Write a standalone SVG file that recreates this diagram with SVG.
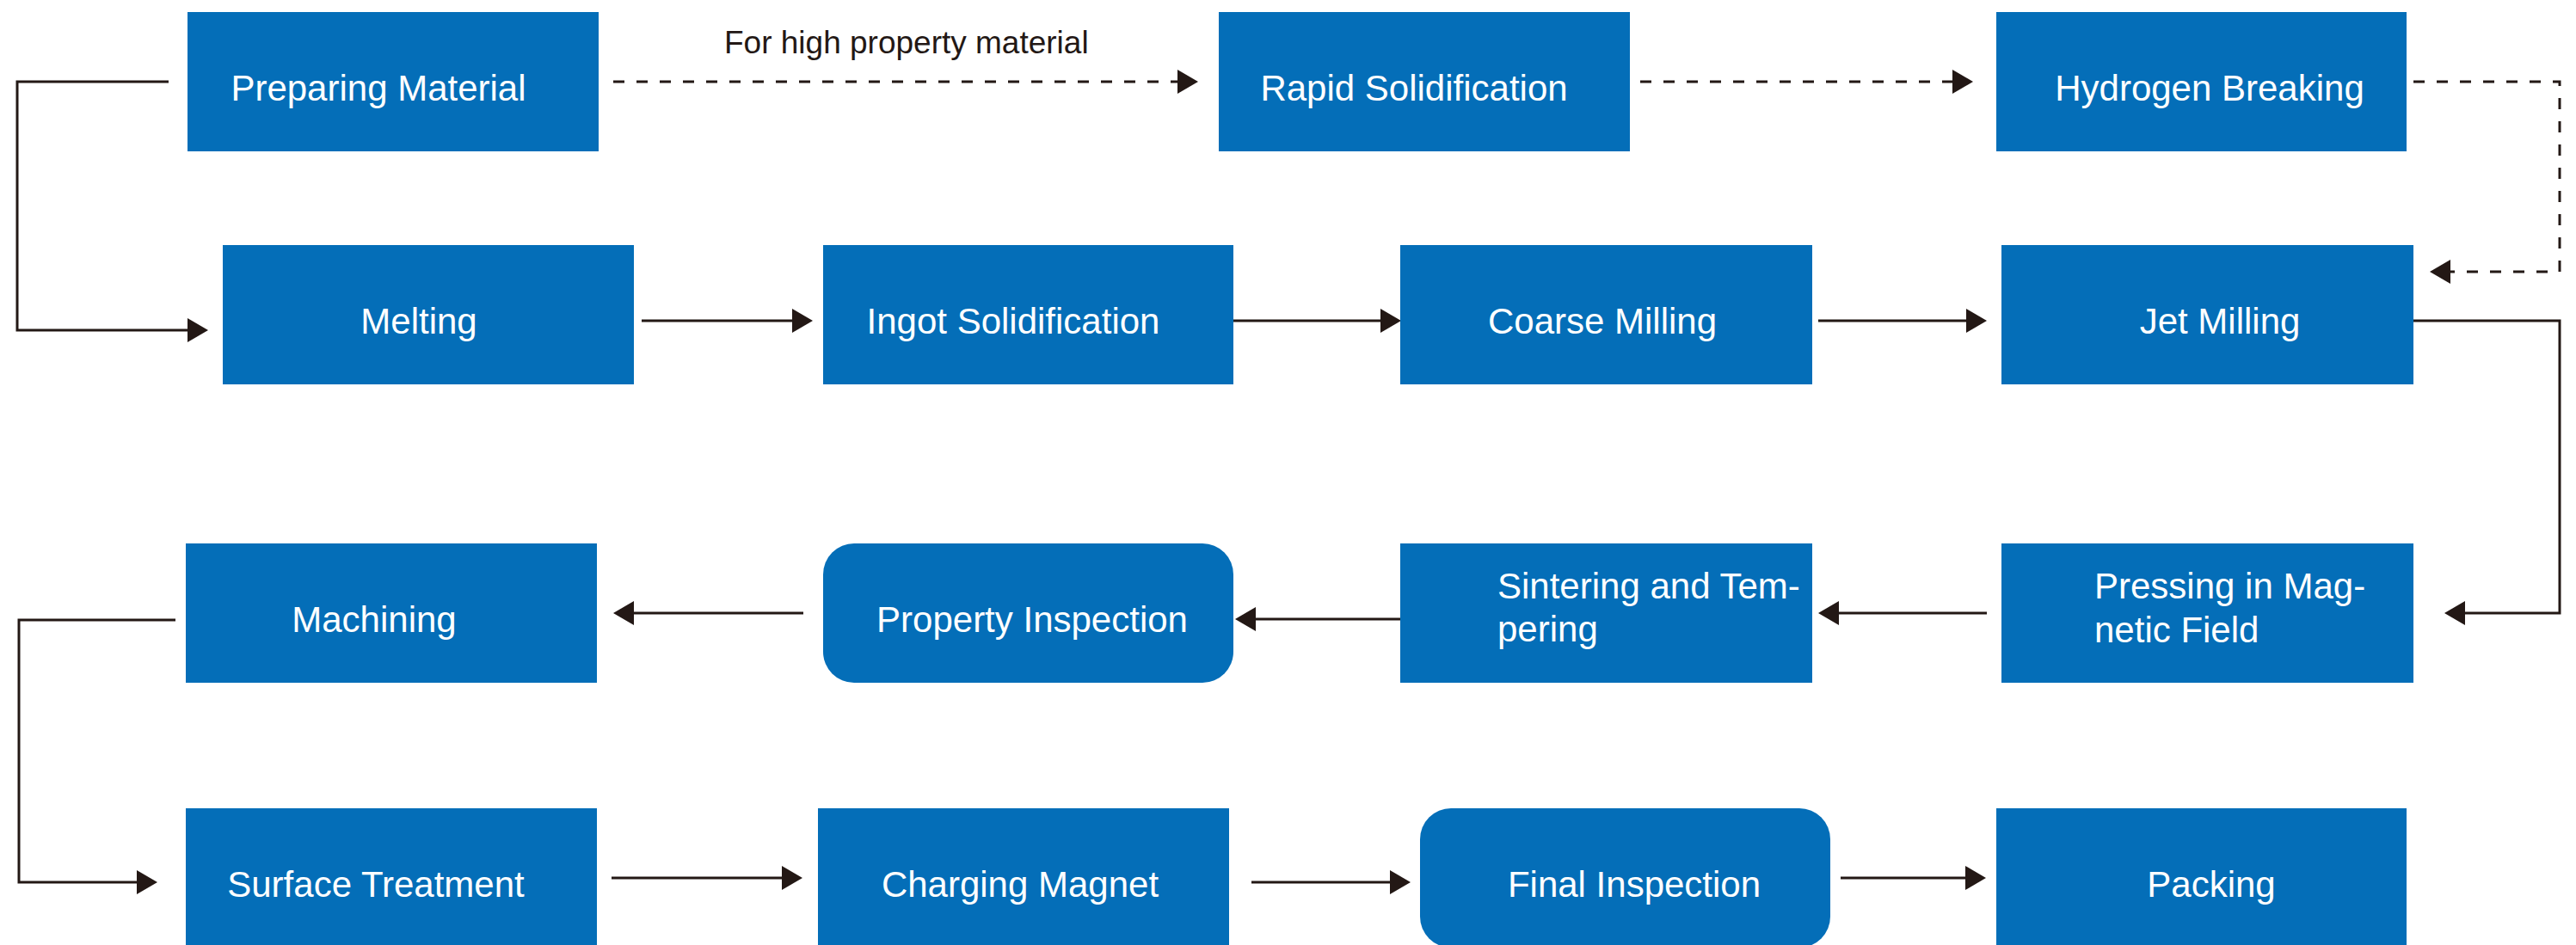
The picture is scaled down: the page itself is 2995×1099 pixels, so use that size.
<svg xmlns="http://www.w3.org/2000/svg" width="2995" height="1099" viewBox="0 0 2995 1099">
<style>
.box{fill:#046EB8}
.t{font-family:"Liberation Sans",Arial,sans-serif;font-size:42px;fill:#ffffff}
.c{text-anchor:middle}
.lbl{font-family:"Liberation Sans",Arial,sans-serif;font-size:37px;fill:#231815}
.ln{fill:none;stroke:#231815;stroke-width:3}
.dash{stroke-dasharray:13 14}
</style>
<defs>
<marker id="ah" markerUnits="userSpaceOnUse" markerWidth="24" markerHeight="28" refX="0" refY="14" orient="auto" viewBox="0 0 24 28">
<path d="M0,0 L24,14 L0,28 z" fill="#231815"/>
</marker>
</defs>
<rect width="2995" height="1099" fill="#ffffff"/>
<g id="connectors">
<path class="ln" d="M196,95 H20 V384 H218" marker-end="url(#ah)"/>
<path class="ln" d="M746,373 H921" marker-end="url(#ah)"/>
<path class="ln" d="M1434,373 H1605" marker-end="url(#ah)"/>
<path class="ln" d="M2114,373 H2286" marker-end="url(#ah)"/>
<path class="ln" d="M2805,373 H2976 V713 H2866" marker-end="url(#ah)"/>
<path class="ln" d="M2310,713 H2138" marker-end="url(#ah)"/>
<path class="ln" d="M1628,720 H1460" marker-end="url(#ah)"/>
<path class="ln" d="M934,713 H737" marker-end="url(#ah)"/>
<path class="ln" d="M204,721 H22 V1026 H159" marker-end="url(#ah)"/>
<path class="ln" d="M711,1021 H909" marker-end="url(#ah)"/>
<path class="ln" d="M1455,1026 H1616" marker-end="url(#ah)"/>
<path class="ln" d="M2140,1021 H2285" marker-end="url(#ah)"/>
<path class="ln dash" d="M713,95 H1369" marker-end="url(#ah)"/>
<path class="ln dash" d="M1907,95 H2270" marker-end="url(#ah)"/>
<path class="ln dash" d="M2806,95 H2976 V316 H2849" marker-end="url(#ah)"/>
<text class="lbl" x="842" y="62">For high property material</text>
</g>
<g id="n-preparing"><rect class="box" x="218" y="14" width="478" height="162"/><text class="t c" x="440" y="117">Preparing Material</text></g>
<g id="n-rapid"><rect class="box" x="1417" y="14" width="478" height="162"/><text class="t c" x="1644" y="117">Rapid Solidification</text></g>
<g id="n-hydrogen"><rect class="box" x="2321" y="14" width="477" height="162"/><text class="t c" x="2569" y="117">Hydrogen Breaking</text></g>
<g id="n-melting"><rect class="box" x="259" y="285" width="478" height="162"/><text class="t c" x="487" y="388">Melting</text></g>
<g id="n-ingot"><rect class="box" x="957" y="285" width="477" height="162"/><text class="t c" x="1178" y="388">Ingot Solidification</text></g>
<g id="n-coarse"><rect class="box" x="1628" y="285" width="479" height="162"/><text class="t c" x="1863" y="388">Coarse Milling</text></g>
<g id="n-jet"><rect class="box" x="2327" y="285" width="479" height="162"/><text class="t c" x="2581" y="388">Jet Milling</text></g>
<g id="n-machining"><rect class="box" x="216" y="632" width="478" height="162"/><text class="t c" x="435" y="735">Machining</text></g>
<g id="n-property"><rect class="box" x="957" y="632" width="477" height="162" rx="36" ry="36"/><text class="t c" x="1200" y="735">Property Inspection</text></g>
<g id="n-sintering"><rect class="box" x="1628" y="632" width="479" height="162"/><text class="t" x="1741" y="696">Sintering and Tem-</text><text class="t" x="1741" y="746">pering</text></g>
<g id="n-pressing"><rect class="box" x="2327" y="632" width="479" height="162"/><text class="t" x="2435" y="696">Pressing in Mag-</text><text class="t" x="2435" y="747">netic Field</text></g>
<g id="n-surface"><rect class="box" x="216" y="940" width="478" height="162"/><text class="t c" x="437" y="1043">Surface Treatment</text></g>
<g id="n-charging"><rect class="box" x="951" y="940" width="478" height="162"/><text class="t c" x="1186" y="1043">Charging Magnet</text></g>
<g id="n-final"><rect class="box" x="1651" y="940" width="477" height="162" rx="36" ry="36"/><text class="t c" x="1900" y="1043">Final Inspection</text></g>
<g id="n-packing"><rect class="box" x="2321" y="940" width="477" height="162"/><text class="t c" x="2571" y="1043">Packing</text></g>
</svg>
